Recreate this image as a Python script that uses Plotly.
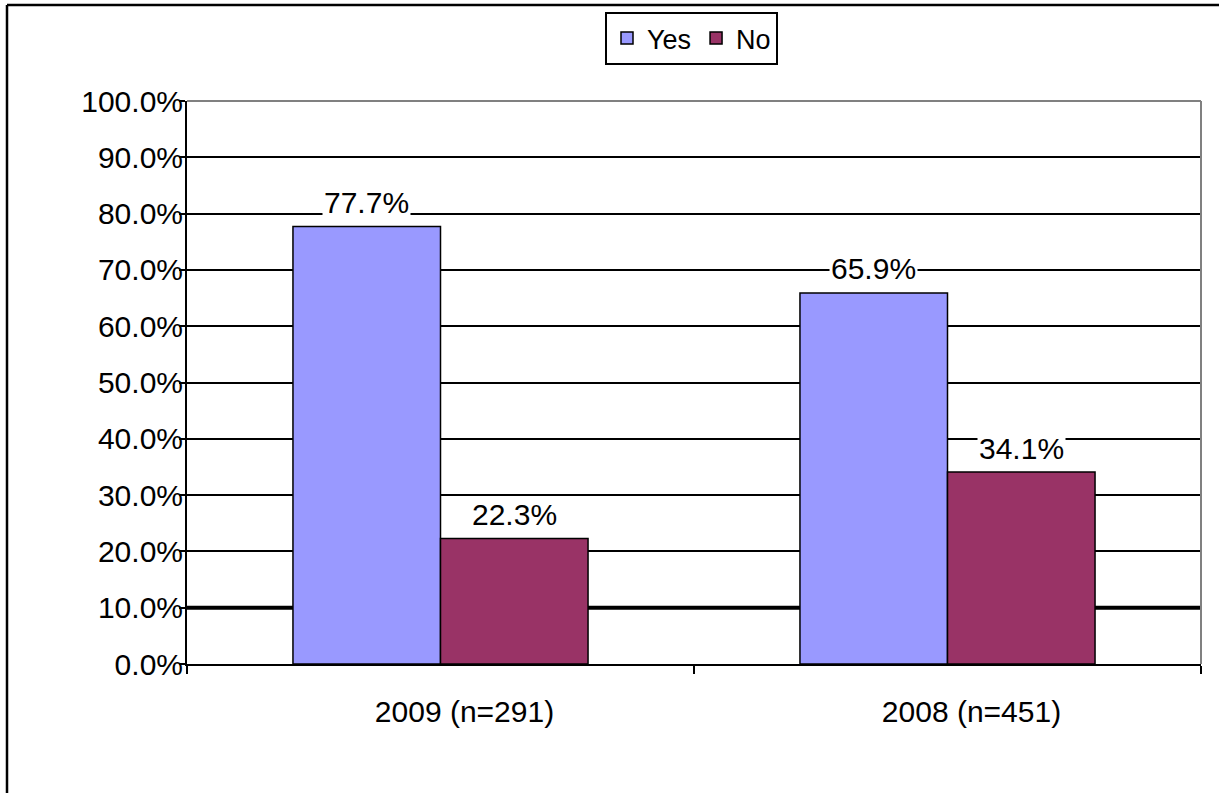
import plotly.graph_objects as go

categories = ["2009 (n=291)", "2008 (n=451)"]
yes_values = [77.7, 65.9]
no_values = [22.3, 34.1]
series_names = ["Yes", "No"]
y_ticks = [0, 10, 20, 30, 40, 50, 60, 70, 80, 90, 100]

FONT = "Liberation Sans, Arial, sans-serif"
W, H = 1219, 793
ML, MR, MT, MB = 187, 18, 101, 129
plot_w = W - ML - MR
bargap = 0.418
bar_px = plot_w / len(categories) * (1 - bargap) / 2

fig = go.Figure()
fig.add_trace(go.Bar(name=series_names[0], x=categories, y=yes_values,
                     marker=dict(color="#9999FF", line=dict(color="black", width=1.5))))
fig.add_trace(go.Bar(name=series_names[1], x=categories, y=no_values,
                     marker=dict(color="#993366", line=dict(color="black", width=1.5))))

# data labels with white background
for vals, sign in ((yes_values, -1), (no_values, 1)):
    for c, v in zip(categories, vals):
        fig.add_annotation(x=c, y=v, xref="x", yref="y", text=f"{v:.1f}%",
                           showarrow=False, xshift=sign * bar_px / 2, yshift=24,
                           yanchor="middle", bgcolor="white", borderpad=1,
                           font=dict(family=FONT, size=30, color="black"))

# thicker 10% gridline
fig.add_shape(type="line", xref="paper", yref="y", x0=0, x1=1, y0=10, y1=10,
              line=dict(color="black", width=4), layer="below")
# gray plot area border (top/right)
fig.add_shape(type="line", xref="paper", yref="paper", x0=0, x1=1, y0=1, y1=1,
              line=dict(color="#808080", width=2), layer="above")
fig.add_shape(type="line", xref="paper", yref="paper", x0=1, x1=1, y0=0, y1=1,
              line=dict(color="#808080", width=2), layer="above")
# outer chart frame (left/top)
ph = H - MT - MB
fig.add_shape(type="line", xref="paper", yref="paper",
              x0=(7 - ML) / plot_w, x1=(7 - ML) / plot_w,
              y0=-0.3, y1=(H - MB - 5) / ph,
              line=dict(color="black", width=2.5), layer="above")
fig.add_shape(type="line", xref="paper", yref="paper",
              x0=(7 - ML) / plot_w, x1=1.1,
              y0=(H - MB - 5) / ph, y1=(H - MB - 5) / ph,
              line=dict(color="black", width=2.5), layer="above")

fig.update_layout(
    width=W, height=H,
    margin=dict(l=ML, r=MR, t=MT, b=MB),
    paper_bgcolor="white", plot_bgcolor="white",
    barmode="group", bargap=bargap, bargroupgap=0,
    font=dict(family=FONT, size=29, color="black"),
    legend=dict(orientation="h", x=(691.5 - ML) / plot_w, xanchor="center",
                y=(H - MB - 12) / ph, yanchor="top",
                bordercolor="black", borderwidth=2, bgcolor="white",
                font=dict(family=FONT, size=27), itemwidth=30,
                tracegroupgap=0),
    showlegend=True,
)
fig.update_xaxes(showgrid=False, showline=True, linecolor="black", linewidth=2,
                 ticks="outside", tickson="boundaries", ticklen=8, tickwidth=2,
                 tickcolor="black", ticklabelstandoff=20, ticklabelshift=24,
                 tickfont=dict(family=FONT, size=30, color="black"))
fig.update_yaxes(range=[0, 100], tickvals=y_ticks,
                 ticktext=[f"{t:.1f}%" for t in y_ticks],
                 showgrid=True, gridcolor="black", gridwidth=2,
                 showline=True, linecolor="black", linewidth=2,
                 ticks="outside", ticklen=6, tickwidth=2, tickcolor="black",
                 zeroline=False, ticklabelstandoff=-10,
                 tickfont=dict(family=FONT, size=30, color="black"))

fig.write_html("out.html", config={"displayModeBar": False},
               post_script="document.body.style.margin='0';document.body.style.overflow='hidden';")
